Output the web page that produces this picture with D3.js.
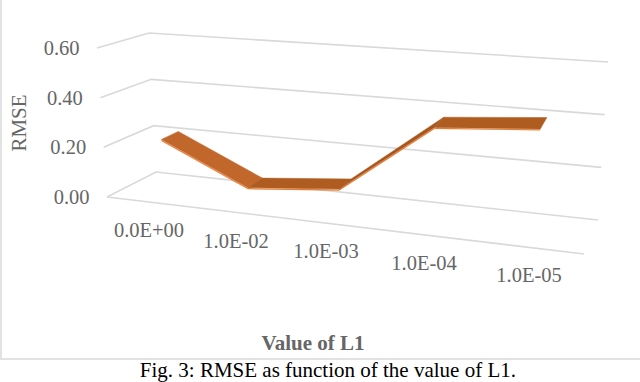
<!DOCTYPE html>
<html lang="en">
<head>
  <meta charset="UTF-8">
  <title>RMSE as function of L1</title>
  <script src="https://d3js.org/d3.v7.min.js"></script>
  <style>
    html, body { margin: 0; padding: 0; background: #fff; }
    svg { display: block; font-family: "Liberation Serif", serif; }
    .grid { fill: none; stroke: #d9d9d9; stroke-width: 1.6; }
    .tick-label { font-size: 20.5px; fill: #666; }
  </style>
</head>
<body>
  <div id="chart"></div>
  <script>
    // Data
    const categories = ['0.0E+00', '1.0E-02', '1.0E-03', '1.0E-04', '1.0E-05'];
    const rmse = [0.222, 0.064, 0.099, 0.379, 0.412];
    const yTicks = [0, 0.2, 0.4, 0.6];
    const yTickLabels = ['0.00', '0.20', '0.40', '0.60'];

    const width = 640;
    const height = 382;

    const svg = d3.select('#chart')
      .append('svg')
      .attr('width', width)
      .attr('height', height);

    // Corners of the 3D box, value -> screen position
    const yDomain = [0, 0.6];
    const frontLeft = { x: d3.scaleLinear().domain(yDomain).range([107, 97]), y: d3.scaleLinear().domain(yDomain).range([197, 48]) };
    const backLeft = { x: d3.scaleLinear().domain(yDomain).range([156, 149]), y: d3.scaleLinear().domain(yDomain).range([172, 33]) };
    const backRight = { x: d3.scaleLinear().domain(yDomain).range([598, 608]), y: d3.scaleLinear().domain(yDomain).range([220, 62]) };
    const frontRight = { x: d3.scaleLinear().domain(yDomain).range([584, 594]), y: d3.scaleLinear().domain(yDomain).range([254, 95]) };

    // Category position along the box, depth of the ribbon inside it
    const xScale = d3.scaleOrdinal().domain(categories).range([0.089, 0.27, 0.465, 0.664, 0.885]);
    const ribbonFront = 0.32;
    const ribbonBack = 0.68;

    // Screen position of a point in the box: t along, d into, v up
    function project(t, d, v) {
      const fx = d3.interpolate(frontLeft.x(v), frontRight.x(v))(t);
      const fy = d3.interpolate(frontLeft.y(v), frontRight.y(v))(t);
      const bx = d3.interpolate(backLeft.x(v), backRight.x(v))(t);
      const by = d3.interpolate(backLeft.y(v), backRight.y(v))(t);
      return [fx + (bx - fx) * d, fy + (by - fy) * d];
    }

    const line = d3.line();

    // Gridlines: front-left, back-left, back-right
    svg.append('g').selectAll('path')
      .data(yTicks)
      .join('path')
      .attr('class', 'grid')
      .attr('d', v => line([project(0, 0, v), project(0, 1, v), project(1, 1, v)]));

    // Front edge of the floor
    svg.append('path')
      .attr('class', 'grid')
      .attr('d', line([project(0, 0, 0), project(1, 0, 0)]));

    // Ribbon, one face per segment
    const segments = d3.pairs(categories.map((c, i) => ({ c, v: rmse[i] })));
    const faceColors = ['#c2672b', '#ae5c20', '#a8551c', '#ae5c20'];

    // Thin lighter edge under the ribbon
    svg.append('g').selectAll('path')
      .data(segments)
      .join('path')
      .attr('d', ([p, q]) => line([project(xScale(p.c), ribbonFront, p.v), project(xScale(q.c), ribbonFront, q.v)]))
      .attr('transform', 'translate(0,1)')
      .attr('fill', 'none')
      .attr('stroke', '#ed7d31')
      .attr('stroke-width', 1.2);

    svg.append('g').selectAll('path')
      .data(segments)
      .join('path')
      .attr('d', ([p, q]) => line([
        project(xScale(p.c), ribbonFront, p.v),
        project(xScale(q.c), ribbonFront, q.v),
        project(xScale(q.c), ribbonBack, q.v),
        project(xScale(p.c), ribbonBack, p.v)
      ]) + 'Z')
      .attr('fill', (d, i) => faceColors[i])
      .attr('stroke', (d, i) => faceColors[i])
      .attr('stroke-width', 0.5);

    // Value labels
    svg.append('g').selectAll('text')
      .data(yTicks)
      .join('text')
      .attr('class', 'tick-label')
      .attr('text-anchor', 'end')
      .attr('x', v => frontLeft.x(v) - 17.5)
      .attr('y', v => frontLeft.y(v) + 7)
      .text((v, i) => yTickLabels[i]);

    // Category labels, staggered below the front edge
    const labelX = d3.scaleOrdinal().domain(categories).range([149, 236, 326, 424, 529]);
    const labelY = d3.scaleOrdinal().domain(categories).range([237, 248, 258, 270, 282]);

    svg.append('g').selectAll('text')
      .data(categories)
      .join('text')
      .attr('class', 'tick-label')
      .attr('text-anchor', 'middle')
      .attr('x', c => labelX(c))
      .attr('y', c => labelY(c))
      .text(c => c);

    // Axis titles
    svg.append('text')
      .attr('transform', 'translate(26, 123) rotate(-90)')
      .attr('text-anchor', 'middle')
      .attr('font-size', 21)
      .attr('fill', '#666')
      .text('RMSE');

    svg.append('text')
      .attr('x', 313)
      .attr('y', 350)
      .attr('text-anchor', 'middle')
      .attr('font-size', 21)
      .attr('font-weight', 'bold')
      .attr('fill', '#666')
      .text('Value of L1');

    // Chart frame, left and bottom edges are all that show
    svg.append('path')
      .attr('d', line([[1, 0], [1, 359], [width, 359]]))
      .attr('fill', 'none')
      .attr('stroke', '#e2e2e2')
      .attr('stroke-width', 2);

    // Caption
    svg.append('text')
      .attr('x', 516)
      .attr('y', 377)
      .attr('text-anchor', 'end')
      .attr('font-size', 21)
      .attr('fill', '#000')
      .text('Fig. 3: RMSE as function of the value of L1.');
  </script>
</body>
</html>
